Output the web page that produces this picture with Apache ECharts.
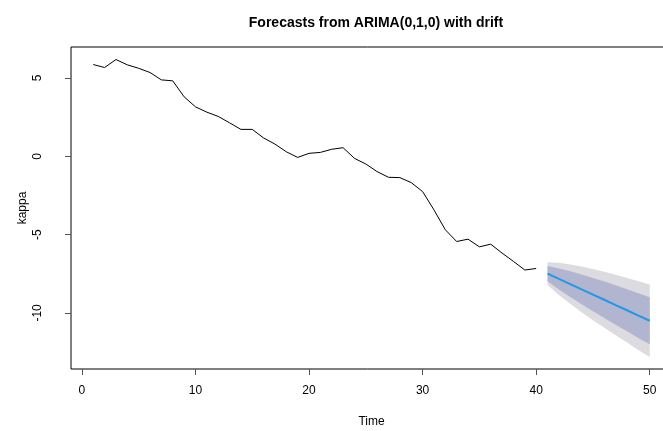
<!DOCTYPE html>
<html lang="en">
<head>
    <meta charset="UTF-8">
    <title>Forecasts from ARIMA(0,1,0) with drift</title>
    <script src="https://cdn.jsdelivr.net/npm/echarts@6/dist/echarts.min.js"></script>
    <style type="text/css">
        html, body {
            margin: 0;
            padding: 0;
            background: #fff;
        }
        #main {
            width: 663px;
            height: 431px;
        }
    </style>
</head>
<body>
<div id="main"></div>
<script type="text/javascript">
    // observed series, t = 1..40
    var obsTime = [1,2,3,4,5,6,7,8,9,10,11,12,13,14,15,16,17,18,19,20,
                   21,22,23,24,25,26,27,28,29,30,31,32,33,34,35,36,37,38,39,40];
    var obsKappa = [5.86,5.67,6.18,5.84,5.62,5.35,4.88,4.82,3.80,3.16,
                    2.82,2.55,2.14,1.72,1.72,1.17,0.78,0.29,-0.07,0.19,
                    0.25,0.45,0.55,-0.13,-0.49,-0.98,-1.34,-1.36,-1.68,-2.25,
                    -3.42,-4.69,-5.44,-5.29,-5.78,-5.61,-6.18,-6.71,-7.26,-7.16];

    // forecast, t = 41..50
    var fcTime = [41,42,43,44,45,46,47,48,49,50];
    var fcMean = [-7.49,-7.83,-8.16,-8.50,-8.83,-9.16,-9.50,-9.83,-10.17,-10.50];
    var lo95 = [-8.22,-8.86,-9.42,-9.96,-10.46,-10.95,-11.43,-11.89,-12.36,-12.81];
    var lo80 = [-7.97,-8.50,-8.98,-9.45,-9.89,-10.32,-10.76,-11.17,-11.60,-12.00];
    var hi80 = [-7.01,-7.16,-7.34,-7.55,-7.77,-8.00,-8.24,-8.49,-8.74,-9.00];
    var hi95 = [-6.76,-6.80,-6.90,-7.04,-7.20,-7.37,-7.57,-7.77,-7.98,-8.19];

    var xTicks = [0, 10, 20, 30, 40, 50];
    var yTicks = [-10, -5, 0, 5];

    function pairs(xs, ys) {
        var out = [];
        for (var i = 0; i < xs.length; i++) {
            out.push([xs[i], ys[i]]);
        }
        return out;
    }

    // polygon between two bounds, drawn through the axis scales
    function band(lo, hi, color) {
        return {
            type: 'custom',
            silent: true,
            data: [[fcTime[0], lo[0]]],
            renderItem: function (params, api) {
                var pts = [];
                for (var i = 0; i < fcTime.length; i++) {
                    pts.push(api.coord([fcTime[i], hi[i]]));
                }
                for (var j = fcTime.length - 1; j >= 0; j--) {
                    pts.push(api.coord([fcTime[j], lo[j]]));
                }
                return {
                    type: 'polygon',
                    shape: {points: pts},
                    style: {fill: color}
                };
            }
        };
    }

    var font = 'Liberation Sans, Arial, sans-serif';

    var myChart = echarts.init(document.getElementById('main'));
    var option = {
        animation: false,
        title: {
            text: 'Forecasts from ARIMA(0,1,0) with drift',
            left: 371,
            top: 11,
            textAlign: 'center',
            textStyle: {fontFamily: font, fontSize: 14, fontWeight: 'bold', color: '#000'}
        },
        grid: {
            left: 71,
            top: 47,
            right: -9,
            bottom: 62,
            containLabel: false,
            outerBoundsMode: 'none',
            show: true,
            borderColor: '#000',
            borderWidth: 1,
            backgroundColor: 'transparent'
        },
        xAxis: {
            type: 'value',
            min: -0.96,
            max: 51.96,
            name: 'Time',
            nameLocation: 'middle',
            nameGap: 47,
            nameTextStyle: {fontFamily: font, fontSize: 12, color: '#000'},
            axisLine: {show: false, onZero: false},
            splitLine: {show: false},
            axisTick: {show: true, length: 6, customValues: xTicks, lineStyle: {color: '#555'}},
            axisLabel: {customValues: xTicks, margin: 16, fontFamily: font, fontSize: 12, color: '#000'}
        },
        yAxis: {
            type: 'value',
            min: -13.58,
            max: 6.98,
            name: 'kappa',
            nameLocation: 'middle',
            nameGap: 42,
            nameMoveOverlap: false,
            nameTextStyle: {fontFamily: font, fontSize: 12, color: '#000'},
            axisLine: {show: false, onZero: false},
            splitLine: {show: false},
            axisTick: {show: true, length: 6, customValues: yTicks, lineStyle: {color: '#555'}},
            axisLabel: {customValues: yTicks, rotate: 90, margin: 27, fontFamily: font, fontSize: 12, color: '#000'}
        },
        series: [
            band(lo95, hi95, '#DBDBE0'),
            band(lo80, hi80, '#B1B5D0'),
            {
                type: 'line',
                data: pairs(obsTime, obsKappa),
                symbol: 'none',
                lineStyle: {color: '#000', width: 1}
            },
            {
                type: 'line',
                data: pairs(fcTime, fcMean),
                symbol: 'none',
                lineStyle: {color: '#2297E6', width: 2}
            }
        ]
    };
    myChart.setOption(option);
</script>
</body>
</html>
